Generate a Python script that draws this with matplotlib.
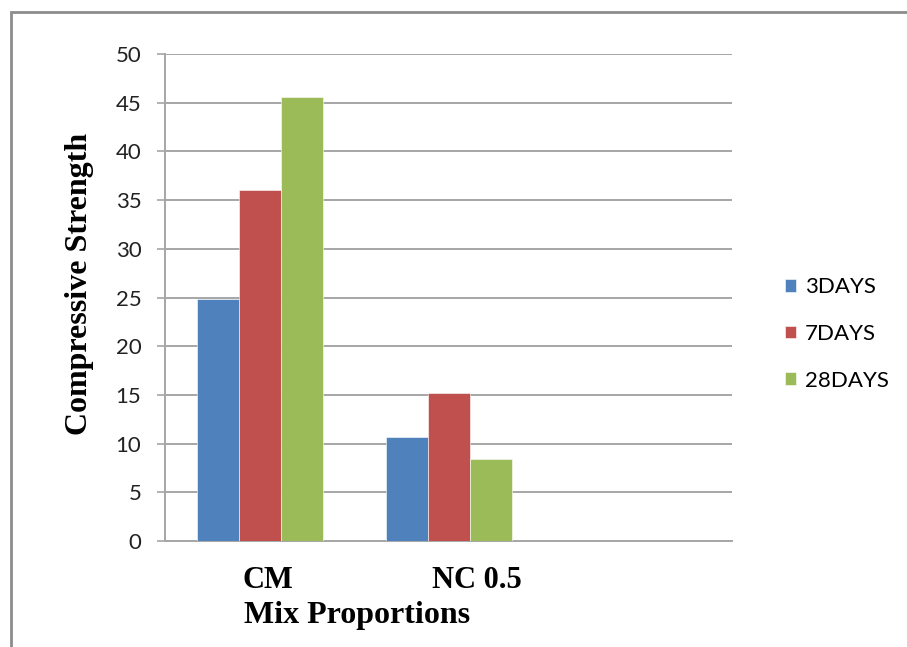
import numpy as np
import matplotlib
matplotlib.use("Agg")
import matplotlib.pyplot as plt
import matplotlib.transforms as mtrans
from matplotlib.patches import Rectangle

# data
categories = ["CM", "NC 0.5", ""]
series_names = ["3DAYS", "7DAYS", "28DAYS"]
days3 = [24.8, 10.7, np.nan]
days7 = [36.0, 15.2, np.nan]
days28 = [45.6, 8.4, np.nan]
yticks = [0, 5, 10, 15, 20, 25, 30, 35, 40, 45, 50]

colors = ["#4F81BD", "#C0504D", "#9BBB59"]
grid_col = "#A6A6A6"

fig = plt.figure(figsize=(9.07, 6.47), dpi=100)
ax = fig.add_axes([165 / 907, 1 - 541 / 647, (732 - 165) / 907, (541 - 54) / 647])

x = np.arange(len(categories))
width = 1 / 4.5  # excel gap width 150%
for k, (vals, name) in enumerate(zip([days3, days7, days28], series_names)):
    ax.bar(x + (k - 1) * width, vals, width, color=colors[k], label=name,
           edgecolor="white", linewidth=0.4, zorder=3)

ax.set_xlim(-0.5, len(categories) - 0.5)
ax.set_ylim(0, 50)
ax.set_yticks(yticks)
ax.yaxis.grid(True, color=grid_col, linewidth=1.4, zorder=0)
ax.tick_params(axis="y", length=6, width=1.2, color=grid_col, pad=11, labelsize=16)
for lab in ax.get_yticklabels():
    lab.set_fontfamily("Lato")
    lab.set_color("#222222")

# category labels sit left-aligned a little left of the group centre
ax.set_xticks(x)
ax.set_xticklabels(categories, fontfamily="Liberation Serif", fontweight="bold", fontsize=22)
ax.tick_params(axis="x", length=0, pad=18)
shift = mtrans.ScaledTranslation(-17 / 100, 0, fig.dpi_scale_trans)
for lab in ax.get_xticklabels():
    lab.set_horizontalalignment("left")
    lab.set_transform(lab.get_transform() + shift)

for s in ["top", "right"]:
    ax.spines[s].set_visible(False)
for s in ["left", "bottom"]:
    ax.spines[s].set_color(grid_col)
    ax.spines[s].set_linewidth(1.4)

ax.set_ylabel("Compressive Strength", fontfamily="Liberation Serif", fontweight="bold", fontsize=23)
ax.yaxis.set_label_coords(-0.125, 0.528)
ax.set_xlabel("Mix Proportions", fontfamily="Liberation Serif", fontweight="bold", fontsize=23)
ax.xaxis.set_label_coords(0.339, -0.124)

ax.legend(loc="center left", bbox_to_anchor=(785 / 907, 1 - 334 / 647),
          bbox_transform=fig.transFigure, frameon=False, borderpad=0, borderaxespad=0,
          handlelength=0.5, handleheight=0.5, handletextpad=0.4, labelspacing=1.2,
          prop={"family": "Lato", "size": 16})

# outer chart border (only top/left visible in the reference)
fig.add_artist(Rectangle((11 / 907, -0.1), 1.2, 1.1 - 12 / 647, transform=fig.transFigure,
                         fill=False, edgecolor="#8C8C8C", linewidth=2))

fig.savefig("out.png", dpi=100)
